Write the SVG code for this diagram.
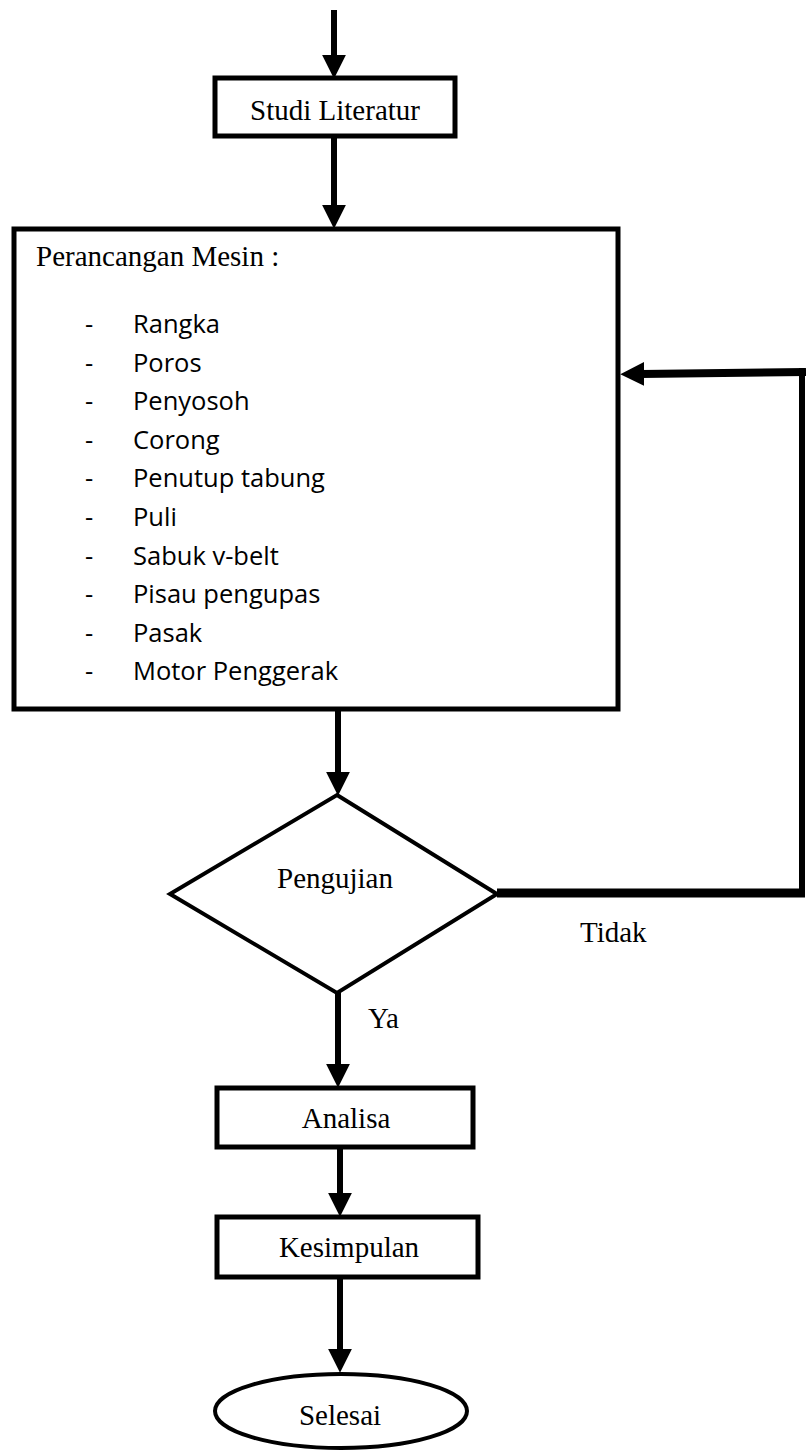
<svg xmlns="http://www.w3.org/2000/svg" width="806" height="1451" viewBox="0 0 806 1451">
<style>
.box{fill:#fff;stroke:#000;stroke-width:5}
.serif{font-family:"Liberation Serif","Times New Roman",serif;font-size:29px;fill:#000}
.sans{font-family:"Open Sans","Noto Sans",sans-serif;font-size:25.5px;fill:#000}
.conn{stroke:#000;stroke-width:6;fill:none}
</style>
<defs>
<marker id="ah" markerUnits="userSpaceOnUse" markerWidth="24" markerHeight="24" viewBox="0 0 22 22" refX="3" refY="11" orient="auto">
<path d="M0,0 L22,11 L0,22 z" fill="#000"/>
</marker>
</defs>
<rect width="806" height="1451" fill="#fff"/>
<g id="connectors">
<line class="conn" x1="334" y1="10" x2="334" y2="58" marker-end="url(#ah)"/>
<line class="conn" x1="334" y1="136" x2="334" y2="208" marker-end="url(#ah)"/>
<line class="conn" x1="338" y1="709" x2="338" y2="775" marker-end="url(#ah)"/>
<line class="conn" x1="338" y1="993" x2="338" y2="1067" marker-end="url(#ah)"/>
<line class="conn" x1="340" y1="1147" x2="340" y2="1196" marker-end="url(#ah)"/>
<line class="conn" x1="340" y1="1277" x2="340" y2="1352" marker-end="url(#ah)"/>
<line class="conn" x1="497" y1="893" x2="805" y2="893" style="stroke-width:9"/>
<line class="conn" x1="802" y1="897" x2="802" y2="368"/>
<line class="conn" x1="806" y1="372" x2="641" y2="374" marker-end="url(#ah)" style="stroke-width:8"/>
</g>
<g id="start-studi-literatur">
<rect class="box" x="215" y="78" width="240" height="58"/>
<text class="serif" x="335" y="120" text-anchor="middle">Studi Literatur</text>
</g>
<g id="perancangan-mesin">
<rect class="box" x="14" y="229" width="604" height="480"/>
<text class="serif" x="36" y="266">Perancangan Mesin :</text>
<g class="sans">
<text x="85" y="333">-</text><text x="133" y="333">Rangka</text>
<text x="85" y="372">-</text><text x="133" y="372">Poros</text>
<text x="85" y="410">-</text><text x="133" y="410">Penyosoh</text>
<text x="85" y="449">-</text><text x="133" y="449">Corong</text>
<text x="85" y="487">-</text><text x="133" y="487">Penutup tabung</text>
<text x="85" y="526">-</text><text x="133" y="526">Puli</text>
<text x="85" y="565">-</text><text x="133" y="565">Sabuk v-belt</text>
<text x="85" y="603">-</text><text x="133" y="603">Pisau pengupas</text>
<text x="85" y="642">-</text><text x="133" y="642">Pasak</text>
<text x="85" y="680">-</text><text x="133" y="680">Motor Penggerak</text>
</g>
</g>
<g id="pengujian">
<polygon points="337,795 497,894 337,993 170,894" fill="#fff" stroke="#000" stroke-width="4" stroke-linejoin="miter"/>
<text class="serif" x="335" y="888" text-anchor="middle">Pengujian</text>
</g>
<g id="label-tidak">
<text class="serif" x="580" y="942">Tidak</text>
</g>
<g id="label-ya">
<text class="serif" x="368" y="1028">Ya</text>
</g>
<g id="analisa">
<rect class="box" x="217" y="1088" width="256" height="59"/>
<text class="serif" x="346" y="1128" text-anchor="middle">Analisa</text>
</g>
<g id="kesimpulan">
<rect class="box" x="217" y="1217" width="261" height="60"/>
<text class="serif" x="349" y="1257" text-anchor="middle">Kesimpulan</text>
</g>
<g id="selesai">
<ellipse cx="341" cy="1411" rx="126" ry="37" fill="#fff" stroke="#000" stroke-width="4"/>
<text class="serif" x="340" y="1425" text-anchor="middle">Selesai</text>
</g>
</svg>
